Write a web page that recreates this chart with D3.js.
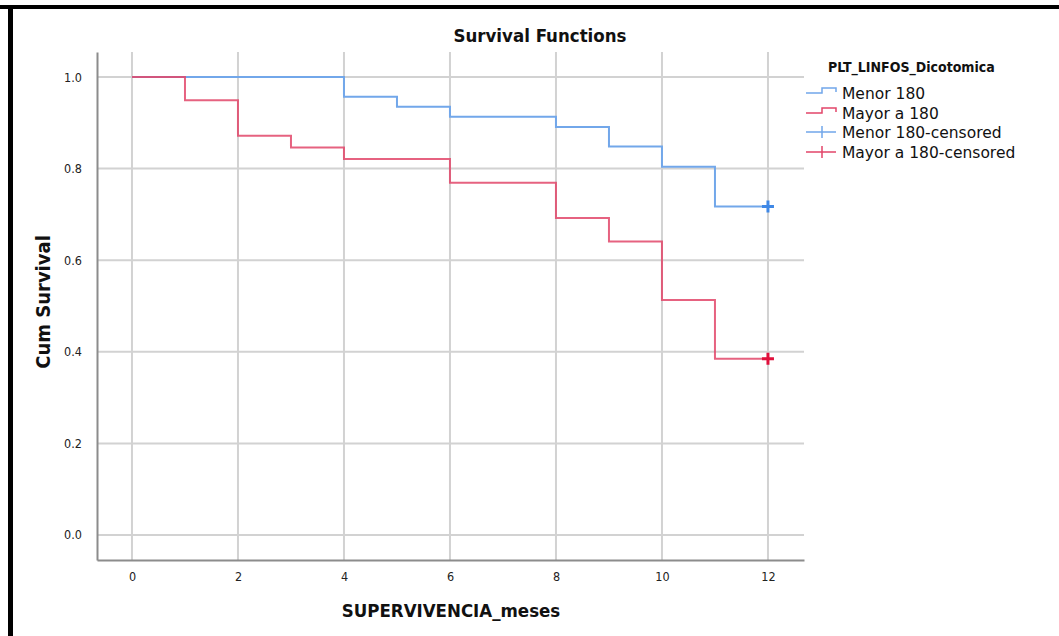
<!DOCTYPE html>
<html>
<head>
<meta charset="utf-8">
<script src="https://cdn.jsdelivr.net/npm/d3@7"></script>
<style>
  html, body { margin: 0; padding: 0; background: #fff; }
  svg { display: block; }
</style>
</head>
<body>
<svg id="chart" width="1059" height="636"></svg>
<script>
// ---- Data ----
const xTicks = [0, 2, 4, 6, 8, 10, 12];
const yTicks = [0.0, 0.2, 0.4, 0.6, 0.8, 1.0];
const groups = ["Menor 180", "Mayor a 180"];
const menorTimes = [0, 4, 5, 6, 8, 9, 10, 11, 12];
const menorSurv  = [1.0, 0.957, 0.935, 0.913, 0.891, 0.848, 0.804, 0.717, 0.717];
const mayorTimes = [0, 1, 2, 3, 4, 6, 8, 9, 10, 11, 12];
const mayorSurv  = [1.0, 0.949, 0.872, 0.846, 0.821, 0.769, 0.692, 0.641, 0.513, 0.385, 0.385];
const censorTimes = [12, 12];
const censorSurv  = [0.717, 0.385];
const legendLabels = ["Menor 180", "Mayor a 180", "Menor 180-censored", "Mayor a 180-censored"];

const lineColors = ["#72a7ea", "#e2466a"];
const markColors = ["#3f88e6", "#e0103c"];

const svg = d3.select("#chart");

// Frame (top and left black borders)
svg.append("rect").attr("x", 0).attr("y", 5).attr("width", 1059).attr("height", 4).attr("fill", "#000");
svg.append("rect").attr("x", 8).attr("y", 5).attr("width", 5).attr("height", 631).attr("fill", "#000");

const x = d3.scaleLinear().domain([-0.66, 12.68]).range([97, 804]);
const y = d3.scaleLinear().domain([-0.0546, 1.0546]).range([560, 52]);

const g = svg.append("g");

// Gridlines
g.selectAll(".vg").data(xTicks).enter().append("line")
  .attr("x1", d => x(d)).attr("x2", d => x(d))
  .attr("y1", y.range()[1]).attr("y2", y.range()[0])
  .attr("stroke", "#d2d2d2").attr("stroke-width", 2);
g.selectAll(".hg").data(yTicks).enter().append("line")
  .attr("x1", x.range()[0]).attr("x2", x.range()[1])
  .attr("y1", d => y(d)).attr("y2", d => y(d))
  .attr("stroke", "#d2d2d2").attr("stroke-width", 2);

// Axes
const xAxis = d3.axisBottom(x).tickValues(xTicks).tickSize(0).tickPadding(12).tickFormat(d3.format("d"));
const yAxis = d3.axisLeft(y).tickValues(yTicks).tickSize(0).tickPadding(15).tickFormat(d3.format(".1f"));
const gx = svg.append("g").attr("transform", `translate(0,${y.range()[0]})`).call(xAxis);
const gy = svg.append("g").attr("transform", `translate(${x.range()[0]},0)`).call(yAxis);
[gx, gy].forEach(a => {
  a.select(".domain").attr("stroke", "#8c8c8c").attr("stroke-width", 2);
  a.selectAll("text").attr("font-family", "'DejaVu Sans Condensed', 'DejaVu Sans'")
    .style("font-stretch", "condensed")
    .attr("font-size", 12.5).attr("fill", "#222");
});

// Step lines
const line = d3.line().x(d => x(d[0])).y(d => y(d[1])).curve(d3.curveStepAfter);
const series = [d3.zip(menorTimes, menorSurv), d3.zip(mayorTimes, mayorSurv)];
series.forEach((s, i) => {
  svg.append("path").datum(s).attr("d", line)
    .attr("fill", "none").attr("stroke", lineColors[i]).attr("stroke-width", 2)
    .attr("opacity", i === 1 ? 0.85 : 1);
});

// Censored marks
censorTimes.forEach((t, i) => {
  const cx = x(t), cy = y(censorSurv[i]);
  svg.append("path").attr("d", `M${cx - 6},${cy}H${cx + 6}M${cx},${cy - 6}V${cy + 6}`)
    .attr("stroke", markColors[i]).attr("stroke-width", 3).attr("fill", "none");
});

// Titles
const condensed = "'DejaVu Sans Condensed', 'DejaVu Sans'";
svg.append("text").attr("x", 540).attr("y", 42).attr("text-anchor", "middle")
  .attr("font-family", condensed).style("font-stretch", "condensed")
  .attr("font-weight", "bold").attr("font-size", 18.5).attr("fill", "#111").text("Survival Functions");
svg.append("text").attr("x", 451).attr("y", 617).attr("text-anchor", "middle")
  .attr("font-family", condensed).style("font-stretch", "condensed")
  .attr("font-weight", "bold").attr("font-size", 18.5).attr("fill", "#111").text("SUPERVIVENCIA_meses");
svg.append("text").attr("transform", "translate(50,302) rotate(-90)").attr("text-anchor", "middle")
  .attr("font-family", condensed).style("font-stretch", "condensed")
  .attr("font-weight", "bold").attr("font-size", 20).attr("fill", "#111").text("Cum Survival");

// Legend
const lg = svg.append("g");
lg.append("text").attr("x", 828).attr("y", 72)
  .attr("font-family", condensed).style("font-stretch", "condensed")
  .attr("font-weight", "bold").attr("font-size", 14).attr("fill", "#111").text("PLT_LINFOS_Dicotomica");
const rowY = [93, 113, 132, 152];
legendLabels.forEach((lab, i) => {
  const cy = rowY[i];
  const ci = i % 2;
  if (i < 2) {
    lg.append("path").attr("d", `M806,${cy}H822V${cy - 5}H836V${cy - 1}`)
      .attr("fill", "none").attr("stroke", lineColors[ci]).attr("stroke-width", 1.5);
  } else {
    lg.append("path").attr("d", `M806,${cy}H836M822,${cy - 6}V${cy + 6}`)
      .attr("fill", "none").attr("stroke", lineColors[ci]).attr("stroke-width", 1.5);
  }
  lg.append("text").attr("x", 842).attr("y", cy + 5.5)
    .attr("font-family", "'DejaVu Sans'").attr("font-size", 15.5).attr("fill", "#111").text(lab);
});
</script>
</body>
</html>
